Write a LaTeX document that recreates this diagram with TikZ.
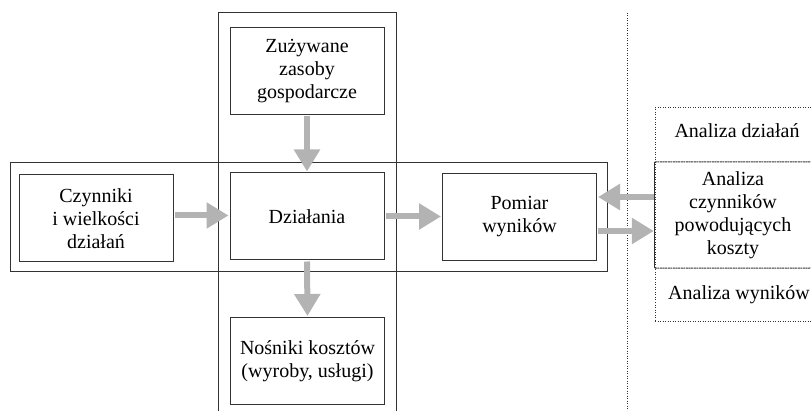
\documentclass[tikz,border=0pt]{standalone}
\usepackage{fontspec}
\setmainfont{Liberation Serif}
\usetikzlibrary{arrows.meta}
\definecolor{arrowgray}{HTML}{B3B3B3}
\definecolor{linegray}{HTML}{333333}
\begin{document}
\begin{tikzpicture}[x=1pt,y=-1pt,
 box/.style={draw=linegray, line width=1pt, minimum width=154pt, minimum height=87pt, align=center, font=\fontsize{20}{23}\selectfont, inner sep=0pt},
 txt/.style={align=center, font=\fontsize{20}{23}\selectfont, inner sep=0pt},
 flow/.style={draw=arrowgray, line width=6pt, -{Triangle[width=25pt,length=22pt]}, shorten >=1pt, shorten <=1pt},
 frame/.style={draw=linegray, line width=1pt},
 dotline/.style={draw=linegray, line width=1pt, dash pattern=on 1pt off 1.5pt}]
\useasboundingbox (0,0) rectangle (811,411);
% frames
\draw[frame] (218,411) -- (218,13) -- (396,13) -- (396,411);
\draw[frame] (10,163) rectangle (607,272);
\draw[dotline] (627,13) -- (627,411);
% boxes
\node[box] (zu) at (307,71.5) {Zużywane\\zasoby\\gospodarcze};
\node[box] (dz) at (307,216.5) {Działania};
\node[box] (cz) at (96,218.5) {Czynniki\\i wielkości\\działań};
\node[box] (no) at (307.5,361) {Nośniki kosztów\\(wyroby, usługi)};
\node[box] (pm) at (519.5,217) {Pomiar\\wyników};
% right analysis panel
\node[txt, minimum width=156pt, minimum height=106pt] (ac) at (733,215) {Analiza\\czynników\\powodujących\\koszty};
\node[txt] (ad) at (737,131) {Analiza działań};
\node[txt] (aw) at (739,295) {Analiza wyników};
\draw[dotline] (811,108) -- (655,108) -- (655,322) -- (811,322);
\draw[frame] (ac.north west) -- (ac.south west);
\draw[draw=linegray, line width=1pt, dash pattern=on 2pt off 0.6pt] (ac.north west) -- (811,162);
\draw[draw=linegray, line width=1pt, dash pattern=on 2pt off 0.6pt] (ac.south west) -- (811,268);
% arrows
\draw[flow] (zu.south) -- (dz.north);
\draw[flow] (dz.south) -- (no.north);
\draw[flow] ([yshift=3pt]cz.east) -- ([yshift=3pt]cz.east -| dz.west);
\draw[flow] (dz.east) -- (dz.east -| pm.west);
\draw[flow] ([yshift=18pt]ac.west) -- ([yshift=18pt]ac.west -| pm.east);
\draw[flow] ([yshift=-14pt]pm.east) -- ([yshift=-14pt]pm.east -| ac.west);
\end{tikzpicture}
\end{document}
